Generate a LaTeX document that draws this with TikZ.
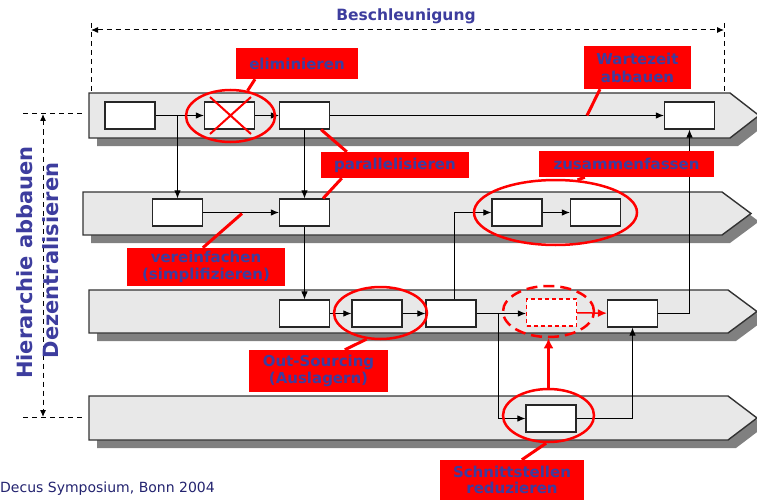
\documentclass[tikz,border=0pt]{standalone}
\usepackage{fontspec}
\setmainfont{DejaVu Sans}
\usetikzlibrary{arrows.meta,shapes.geometric,calc}
\definecolor{lanefill}{HTML}{E8E8E8}
\definecolor{shadowgray}{HTML}{808080}
\definecolor{lblue}{HTML}{3D3D9E}
\definecolor{navy}{HTML}{23236F}
\newcommand{\drawlane}[4]{% left, right, top, bottom
  \fill[shadowgray] ({#1+8},{#3+8}) -- ({#2+8},{#3+8}) -- ({#2+37},{(#3+#4)/2+8}) -- ({#2+8},{#4+8}) -- ({#1+8},{#4+8}) -- cycle;
  \filldraw[lanest] (#1,#3) -- (#2,#3) -- ({#2+29},{(#3+#4)/2}) -- (#2,#4) -- (#1,#4) -- cycle;}
\begin{document}
\begin{tikzpicture}[x=1pt,y=-1pt,
  lanest/.style={fill=lanefill,draw=black!80,line width=1.4pt},
  box/.style={draw=black!85,line width=1.2pt,fill=white,minimum width=50pt,minimum height=27pt,inner sep=0pt},
  conn/.style={line width=0.9pt,-{Latex[length=8pt,width=6.5pt]}},
  redell/.style={ellipse,draw=red,line width=2.5pt,inner sep=0pt},
  lbl/.style={fill=red,text=lblue,font=\bfseries\fontsize{15}{17}\selectfont,align=center,inner sep=0pt},
  leader/.style={draw=red,line width=3pt},
  dline/.style={dash pattern=on 5pt off 4pt,line width=1pt},
  dimtips/.style={{Latex[length=7pt,width=6pt]}-{Latex[length=7pt,width=6pt]}}
]
\useasboundingbox (0,0) rectangle (757,500);
\clip (0,0) rectangle (757,500);

% lanes
\drawlane{89}{730}{93}{138}
\drawlane{83}{722}{192}{235}
\drawlane{89}{728}{290}{333}
\drawlane{89}{728}{396}{440}

% dimension markers
\draw[dline] (91,23) -- (91,93);
\draw[dline] (724,23) -- (724,93);
\draw[dline,dimtips] (91,30) -- (724,30);
\node[anchor=base,text=lblue,font=\bfseries\fontsize{15.5}{18}\selectfont] (besch) at (406,20.7) {Beschleunigung};

\draw[dline] (23,114) -- (83,114);
\draw[dline] (23,417) -- (83,417);
\draw[dline,dimtips] (43,114) -- (43,417);
\node[rotate=90,anchor=base,text=lblue,font=\bfseries\fontsize{21}{24}\selectfont] (hier) at (32.5,262.5) {Hierarchie abbauen};
\node[rotate=90,anchor=base,text=lblue,font=\bfseries\fontsize{21}{24}\selectfont] (dez) at (58.5,260.5) {Dezentralisieren};

% boxes
\node[box] (b1) at (130,115.5) {};
\node[box] (b2) at (229.5,115.5) {};
\node[box] (b3) at (304.5,115.5) {};
\node[box] (b4) at (689.5,115.5) {};
\node[box] (c1) at (177.5,212.5) {};
\node[box] (c2) at (304.5,212.5) {};
\node[box] (c3) at (517,212.5) {};
\node[box] (c4) at (595.5,212.5) {};
\node[box] (d1) at (304.5,313.5) {};
\node[box] (d2) at (377,313.5) {};
\node[box] (d3) at (451,313.5) {};
\node[box,draw=red,dash pattern=on 4pt off 3pt] (d4) at (551.5,312.5) {};
\node[box] (d5) at (632.5,313.5) {};
\node[box] (e1) at (551,418.5) {};

% connectors
\coordinate (j1) at (177.5,115.5);
\coordinate (j2) at (498.5,313.5);
\draw[conn] (b1) -- (b2);
\draw[conn] (b2) -- (b3);
\draw[conn] (b3) -- (b4);
\draw[conn] (j1) -- (c1.north);
\draw[conn] (b3) -- (c2);
\draw[conn] (c1) -- (c2);
\draw[conn] (c2) -- (d1);
\draw[conn] (d1) -- (d2);
\draw[conn] (d2) -- (d3);
\draw[conn] ([xshift=3.5pt]d3.north) |- (c3.west);
\draw[conn] (c3) -- (c4);
\draw[conn] (d3) -- (d4.west |- d3.east);
\draw[conn] (j2) |- (e1.west);
\draw[conn] (e1.east) -| (d5.south);
\draw[conn] (d5.east) -| (b4.south);
\draw[conn,draw=red,line width=1.5pt,-{Latex[length=9pt,width=8pt]}] (d4) -- (d5);

% cross on eliminated step
\draw[red,line width=2pt] ([shift={(-19.5,18.5)}]b2.center) -- ([shift={(21.5,-18.5)}]b2.center)
  ([shift={(21.5,18.5)}]b2.center) -- ([shift={(-19.5,-18.5)}]b2.center);

% ellipses
\node[redell,minimum width=89pt,minimum height=52pt] (ea) at (230.5,116) {};
\node[redell,minimum width=163pt,minimum height=65pt] (eb) at (555.5,212.5) {};
\node[redell,minimum width=93pt,minimum height=52pt] (ec) at (380.5,313) {};
\node[redell,dash pattern=on 11pt off 6pt,minimum width=91pt,minimum height=51pt] (ed) at (548.5,311.5) {};
\node[redell,minimum width=91pt,minimum height=53pt] (ee) at (548.5,415.5) {};
\draw[red,line width=3pt,-{Latex[length=10pt,width=10pt]}] (ee.north) -- (ed.south);

% labels
\node[lbl,minimum width=122pt,minimum height=31pt] (lelim) at (297,63.5) {eliminieren};
\node[lbl,minimum width=107pt,minimum height=43pt,font=\bfseries\fontsize{15}{18}\selectfont] (lwarte) at (637.5,67.5) {Wartezeit\\abbauen};
\node[lbl,minimum width=148pt,minimum height=26pt] (lpar) at (395,165) {parallelisieren};
\node[lbl,minimum width=175pt,minimum height=26pt] (lzus) at (626.5,164) {zusammenfassen};
\node[lbl,minimum width=158pt,minimum height=38pt,font=\bfseries\fontsize{15}{16.5}\selectfont] (lver) at (206,267) {vereinfachen\\(simplifizieren)};
\node[lbl,minimum width=139pt,minimum height=42pt,font=\bfseries\fontsize{15}{16.5}\selectfont] (lout) at (318.5,371) {Out-Sourcing\\(Auslagern)};
\node[lbl,minimum width=144pt,minimum height=40pt,font=\bfseries\fontsize{15}{16.5}\selectfont] (lschn) at (512,480) {Schnittstellen\\reduzieren};

% leaders
\coordinate (w1) at (587,115.5);
\coordinate (v1) at (242,213.5);
\draw[leader] ([xshift=-42pt]lelim.south) -- (ea.56);
\draw[leader] ([xshift=-37.5pt]lwarte.south) -- (w1);
\draw[leader] ([xshift=-9pt]b3.south east) -- ([xshift=26pt]lpar.north west);
\draw[leader] ([xshift=21pt]lpar.south west) -- ([xshift=-7pt]c2.north east);
\draw[leader] ([xshift=46pt]lzus.south west) -- (eb.56);
\draw[leader] ([xshift=76pt]lver.north west) -- (v1);
\draw[leader] ([xshift=96pt]lout.north west) -- (ec.-118);
\draw[leader] ([xshift=82pt]lschn.north west) -- (ee.-95);

% footer
\node[anchor=base west,inner sep=0pt,text=navy,font=\fontsize{14}{16}\selectfont] (foot) at (0,492) {Decus Symposium, Bonn 2004};
\end{tikzpicture}
\end{document}
